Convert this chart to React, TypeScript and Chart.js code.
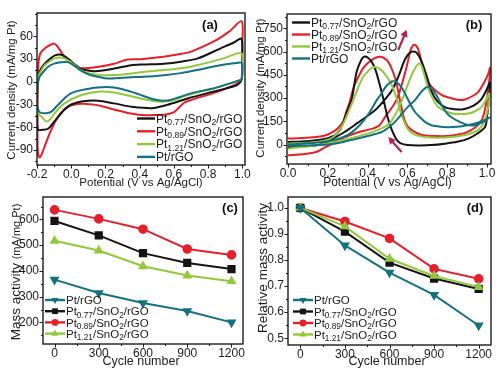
import React, { useEffect, useRef } from 'react';
import { Chart, registerables } from 'chart.js';

Chart.register(...registerables);

const W = 500;
const H = 373;
const SANS = "'Liberation Sans', Arial, Helvetica, sans-serif";
const NARROW = "'Liberation Sans Narrow', 'Arial Narrow', 'Liberation Sans', Arial, sans-serif";

type P = [number, number];

// ---------- series names / colours ----------
const NAME_PT077 = 'Pt_{0.77}/SnO_{2}/rGO';
const NAME_PT089 = 'Pt_{0.89}/SnO_{2}/rGO';
const NAME_PT121 = 'Pt_{1.21}/SnO_{2}/rGO';
const NAME_PTRGO = 'Pt/rGO';
const C_BLACK = '#141414';
const C_RED = '#e5202a';
const C_GREEN = '#93c83e';
const C_TEAL = '#16717f';
const C_ARROW = '#b3234a';

// ---------- panel (a): CV in H2SO4 ----------
const A_PT077: P[] = [[-0.199,-56],[-0.197,-10],[-0.192,9],[-0.175,18],[-0.155,24],[-0.12,31],[-0.095,35],[-0.065,36],[-0.04,34],[-0.01,29],[0.015,24],[0.058,17],[0.1,15],[0.14,14],[0.25,17.5],[0.35,22],[0.42,23],[0.54,24],[0.65,27],[0.74,31],[0.87,44],[0.95,52],[0.994,57],[0.999,35],[0.996,4],[0.97,-4],[0.9,-9],[0.83,-13],[0.68,-22],[0.56,-30.5],[0.47,-35],[0.4,-34],[0.35,-33],[0.25,-28.5],[0.155,-25],[0.06,-26],[0.0,-30],[-0.04,-37],[-0.097,-52],[-0.135,-62],[-0.17,-63.5],[-0.193,-63.5],[-0.199,-56]];
const A_PT089: P[] = [[-0.197,-85],[-0.198,-30],[-0.195,12],[-0.19,28],[-0.18,38],[-0.15,45],[-0.12,49],[-0.1,50.5],[-0.085,48],[-0.06,40],[-0.035,32],[0.0,25],[0.03,20],[0.06,18],[0.16,20],[0.25,24],[0.33,29.5],[0.41,30],[0.54,33],[0.62,36],[0.7,40],[0.83,53],[0.92,66],[0.995,80],[0.999,50],[0.996,5],[0.985,0],[0.93,-6.5],[0.83,-15],[0.7,-24],[0.657,-28],[0.6,-40],[0.54,-43.5],[0.48,-44],[0.41,-44],[0.35,-42],[0.25,-36.5],[0.155,-31],[0.06,-29],[-0.02,-33],[-0.077,-46],[-0.116,-63],[-0.155,-85],[-0.175,-97],[-0.186,-100],[-0.193,-96],[-0.197,-85]];
const A_PT121: P[] = [[-0.199,-38],[-0.198,-5],[-0.193,7],[-0.175,15],[-0.155,22],[-0.12,28],[-0.097,31],[-0.06,32],[-0.04,31],[-0.01,27],[0.019,22],[0.077,13],[0.155,9],[0.25,9],[0.35,11],[0.42,13],[0.54,15.5],[0.64,18],[0.735,22],[0.89,31],[0.993,38],[0.999,20],[0.996,3],[0.985,2],[0.9,-4],[0.83,-9],[0.68,-17.5],[0.6,-24],[0.53,-26.5],[0.48,-25.5],[0.406,-22],[0.35,-19],[0.25,-14],[0.155,-13],[0.06,-17.5],[-0.04,-28.5],[-0.097,-41.5],[-0.125,-50],[-0.145,-52.5],[-0.17,-47],[-0.193,-42],[-0.199,-38]];
const A_PTRGO: P[] = [[-0.2,-32],[-0.2,-9],[-0.19,3],[-0.184,7],[-0.16,14],[-0.135,20],[-0.1,24],[-0.058,26],[-0.02,26],[0.02,21],[0.039,17.5],[0.08,12],[0.116,8.8],[0.213,4.5],[0.348,6],[0.42,6.6],[0.54,8.8],[0.64,11.5],[0.735,15.5],[0.87,22],[0.95,24.5],[0.995,25],[0.999,12],[0.996,3],[0.985,2],[0.9,-4],[0.83,-8.8],[0.72,-14],[0.638,-19.7],[0.58,-24],[0.54,-25],[0.5,-24],[0.464,-22],[0.4,-17],[0.348,-13],[0.25,-7.5],[0.155,-7.5],[0.058,-11],[0.0,-15],[-0.04,-22],[-0.08,-31],[-0.116,-39.5],[-0.145,-41.5],[-0.164,-41.5],[-0.185,-40],[-0.2,-32]];
const A_X_TICKS = [-0.2, 0, 0.2, 0.4, 0.6, 0.8, 1.0];
const A_Y_TICKS = [-90, -60, -30, 0, 30, 60];

// ---------- panel (b): methanol oxidation CV ----------
const B_PT077: P[] = [[0,-15],[0.07,-11],[0.142,-5],[0.2,18],[0.226,39],[0.27,70],[0.31,103],[0.35,140],[0.394,180],[0.44,225],[0.477,276],[0.52,345],[0.554,437],[0.588,550],[0.612,592],[0.63,600],[0.648,590],[0.672,534],[0.7,430],[0.72,345],[0.75,280],[0.79,240],[0.84,228],[0.88,228],[0.93,250],[0.97,290],[1.0,360],[1.015,400],[1.01,300],[1.0,180],[0.99,114],[0.95,70],[0.906,39],[0.85,18],[0.789,6],[0.72,-3],[0.655,-5],[0.6,-2],[0.57,6],[0.55,25],[0.538,49],[0.52,100],[0.5,179],[0.478,300],[0.458,400],[0.44,480],[0.42,535],[0.4,562],[0.385,568],[0.37,550],[0.345,470],[0.32,290],[0.3,225],[0.28,150],[0.26,95],[0.24,65],[0.226,55],[0.19,38],[0.142,28],[0.07,20],[0,17]];
const B_PT089: P[] = [[0,-69],[0.07,-62],[0.142,-48],[0.19,-15],[0.226,6],[0.27,38],[0.31,60],[0.35,78],[0.394,93],[0.43,105],[0.46,125],[0.494,190],[0.52,235],[0.546,290],[0.57,380],[0.596,502],[0.615,605],[0.63,642],[0.645,637],[0.66,590],[0.68,490],[0.705,400],[0.739,351],[0.78,315],[0.823,298],[0.86,288],[0.889,291],[0.93,315],[0.956,340],[0.985,400],[1.007,460],[1.015,495],[1.012,420],[1.0,300],[0.985,200],[0.97,150],[0.94,110],[0.9,80],[0.856,65],[0.8,55],[0.739,55],[0.68,60],[0.655,70],[0.62,95],[0.6,120],[0.585,160],[0.57,240],[0.554,340],[0.54,420],[0.521,490],[0.5,540],[0.48,560],[0.462,566],[0.44,560],[0.42,545],[0.4,525],[0.378,495],[0.355,440],[0.33,370],[0.31,276],[0.29,200],[0.276,146],[0.25,105],[0.226,82],[0.19,60],[0.142,49],[0.07,42],[0,39]];
const B_PT121: P[] = [[0,-26],[0.07,-15],[0.142,-5],[0.22,15],[0.31,39],[0.37,60],[0.427,82],[0.47,105],[0.51,136],[0.55,220],[0.58,310],[0.6,380],[0.625,460],[0.645,505],[0.657,522],[0.67,510],[0.685,450],[0.705,360],[0.73,290],[0.755,243],[0.8,210],[0.839,198],[0.88,198],[0.906,200],[0.94,215],[0.973,243],[1.0,300],[1.012,330],[1.008,260],[0.99,160],[0.956,95],[0.9,65],[0.823,49],[0.75,45],[0.688,49],[0.65,58],[0.622,75],[0.6,105],[0.588,136],[0.57,190],[0.554,265],[0.535,340],[0.515,400],[0.49,450],[0.465,485],[0.44,500],[0.42,495],[0.4,470],[0.378,437],[0.35,360],[0.328,287],[0.3,200],[0.278,136],[0.25,80],[0.228,49],[0.19,28],[0.144,17],[0.07,10],[0,6]];
const B_PTRGO: P[] = [[0,-8],[0.1,-5],[0.2,0],[0.26,12],[0.31,28],[0.36,42],[0.4,55],[0.44,68],[0.477,85],[0.51,115],[0.54,150],[0.57,195],[0.6,240],[0.64,290],[0.67,340],[0.7,372],[0.72,360],[0.745,320],[0.77,260],[0.8,200],[0.823,175],[0.86,148],[0.9,128],[0.94,125],[0.97,140],[1.012,175],[1.0,165],[0.96,145],[0.9,125],[0.85,115],[0.8,112],[0.75,118],[0.72,125],[0.69,145],[0.66,180],[0.638,210],[0.615,260],[0.59,325],[0.57,370],[0.55,398],[0.53,408],[0.513,400],[0.49,370],[0.465,320],[0.445,285],[0.42,230],[0.395,180],[0.36,125],[0.312,71],[0.27,45],[0.228,28],[0.15,14],[0.06,6],[0,0]];
const B_X_TICKS = [0, 0.2, 0.4, 0.6, 0.8, 1.0];
const B_Y_TICKS = [0, 150, 300, 450, 600, 750];
const B_ARROWS: [number, number, number, number][] = [[0.554, 610, 0.596, 740], [0.571, -48, 0.504, 49]];

// ---------- panels (c) and (d): durability ----------
const CYCLES = [0, 300, 600, 900, 1200];
const C_PTRGO = [366, 314, 275, 244, 200];
const C_PT077 = [594, 538, 469, 431, 407];
const C_PT089 = [637, 602, 562, 485, 462];
const C_PT121 = [517, 479, 418, 382, 360];
const C_Y_TICKS = [200, 300, 400, 500, 600];

const D_PTRGO = [1.0, 0.856, 0.752, 0.666, 0.549];
const D_PT077 = [1.0, 0.909, 0.79, 0.729, 0.689];
const D_PT089 = [1.0, 0.948, 0.883, 0.766, 0.728];
const D_PT121 = [1.0, 0.929, 0.805, 0.739, 0.696];
const D_Y_TICKS = [0.5, 0.6, 0.7, 0.8, 0.9, 1.0];

// ---------- drawing helpers ----------
function richSegments(s: string) {
  const out: { t: string; sub: boolean }[] = [];
  const re = /_\{([^}]*)\}/g;
  let last = 0;
  let m: RegExpExecArray | null;
  while ((m = re.exec(s))) {
    if (m.index > last) out.push({ t: s.slice(last, m.index), sub: false });
    out.push({ t: m[1], sub: true });
    last = re.lastIndex;
  }
  if (last < s.length) out.push({ t: s.slice(last), sub: false });
  return out;
}

function drawRich(ctx: CanvasRenderingContext2D, s: string, x: number, yMid: number, size: number, color: string) {
  let cx = x;
  const base = yMid + size * 0.36;
  ctx.fillStyle = color;
  ctx.textAlign = 'left';
  ctx.textBaseline = 'alphabetic';
  for (const seg of richSegments(s)) {
    const fs = seg.sub ? size * 0.72 : size;
    ctx.font = `${fs}px ${SANS}`;
    ctx.fillText(seg.t, cx, seg.sub ? base + size * 0.2 : base);
    cx += ctx.measureText(seg.t).width;
  }
}

function drawMarker(ctx: CanvasRenderingContext2D, style: string, x: number, y: number, r: number, rot: number, color: string) {
  ctx.fillStyle = color;
  ctx.beginPath();
  if (style === 'rect') {
    const s = r * 0.78;
    ctx.rect(x - s, y - s, 2 * s, 2 * s);
  } else if (style === 'circle') {
    ctx.arc(x, y, r * 0.92, 0, Math.PI * 2);
  } else {
    let a = (rot * Math.PI) / 180;
    for (let i = 0; i < 3; i++) {
      const px = x + Math.sin(a) * r * 1.1;
      const py = y - Math.cos(a) * r * 1.1;
      if (i === 0) ctx.moveTo(px, py);
      else ctx.lineTo(px, py);
      a += (2 * Math.PI) / 3;
    }
    ctx.closePath();
  }
  ctx.fill();
}

function drawArrow(ctx: CanvasRenderingContext2D, x1: number, y1: number, x2: number, y2: number, color: string) {
  const ang = Math.atan2(y2 - y1, x2 - x1);
  const hl = 7;
  const hw = 3.8;
  ctx.strokeStyle = color;
  ctx.lineWidth = 2.2;
  ctx.beginPath();
  ctx.moveTo(x1, y1);
  ctx.lineTo(x2 - Math.cos(ang) * hl * 0.7, y2 - Math.sin(ang) * hl * 0.7);
  ctx.stroke();
  ctx.fillStyle = color;
  ctx.beginPath();
  ctx.moveTo(x2, y2);
  ctx.lineTo(x2 - hl * Math.cos(ang) + hw * Math.sin(ang), y2 - hl * Math.sin(ang) - hw * Math.cos(ang));
  ctx.lineTo(x2 - hl * Math.cos(ang) - hw * Math.sin(ang), y2 - hl * Math.sin(ang) + hw * Math.cos(ang));
  ctx.closePath();
  ctx.fill();
}

interface LegendItem { label: string; color: string; marker?: string; rot?: number }
interface TitleSeg { t: string; size: number }
interface PanelSpec {
  area: { l: number; t: number; r: number; b: number };
  x: [number, number];
  y: [number, number];
  xTicks: number[];
  yTicks: number[];
  xMinor: number;
  yMinor: number;
  xFmt: (v: number) => string;
  yFmt: (v: number) => string;
  yPad: number;
  xPad: number;
  datasets: any[];
  xTitle: { text: string; x: number; y: number; size: number };
  yTitle: { segs: TitleSeg[]; x: number; y: number };
  label: { text: string; x: number; y: number };
  legend: { x1: number; x2: number; tx: number; ys: number[]; size: number; items: LegendItem[] };
  arrows?: [number, number, number, number][];
}

const YW = 30;
const XH = 18;
const TICK_SIZE = 12;

function decor(p: PanelSpec) {
  return {
    id: 'decor',
    afterDraw(chart: any) {
      const ctx: CanvasRenderingContext2D = chart.ctx;
      const { left, top, right, bottom } = chart.chartArea;
      const xs = chart.scales.x;
      const ys = chart.scales.y;
      ctx.save();
      // frame
      ctx.strokeStyle = '#1c1c1c';
      ctx.lineWidth = 1.4;
      ctx.strokeRect(left, top, right - left, bottom - top);
      // outward ticks, major + minor
      ctx.lineWidth = 1;
      const isMajor = (arr: number[], v: number, eps: number) => arr.some((t) => Math.abs(t - v) < eps);
      const xs0 = Math.ceil(p.x[0] / p.xMinor) * p.xMinor;
      for (let v = xs0; v <= p.x[1] + 1e-9; v += p.xMinor) {
        const px = Math.round(xs.getPixelForValue(v)) + 0.5;
        const len = isMajor(p.xTicks, v, p.xMinor / 10) ? 3.5 : 2;
        ctx.beginPath();
        ctx.moveTo(px, bottom);
        ctx.lineTo(px, bottom + len);
        ctx.stroke();
      }
      const ys0 = Math.ceil(p.y[0] / p.yMinor) * p.yMinor;
      for (let v = ys0; v <= p.y[1] + 1e-9; v += p.yMinor) {
        const py = Math.round(ys.getPixelForValue(v)) + 0.5;
        const len = isMajor(p.yTicks, v, p.yMinor / 10) ? 3.5 : 2;
        ctx.beginPath();
        ctx.moveTo(left, py);
        ctx.lineTo(left - len, py);
        ctx.stroke();
      }
      // axis titles
      ctx.fillStyle = '#1c1c1c';
      ctx.textAlign = 'center';
      ctx.textBaseline = 'middle';
      ctx.font = `${p.xTitle.size}px ${SANS}`;
      ctx.fillText(p.xTitle.text, p.xTitle.x, p.xTitle.y);
      ctx.save();
      ctx.translate(p.yTitle.x, p.yTitle.y);
      ctx.rotate(-Math.PI / 2);
      let total = 0;
      for (const s of p.yTitle.segs) {
        ctx.font = `${s.size}px ${SANS}`;
        total += ctx.measureText(s.t).width;
      }
      let cx = -total / 2;
      ctx.textAlign = 'left';
      ctx.textBaseline = 'alphabetic';
      const maxSize = Math.max(...p.yTitle.segs.map((s) => s.size));
      for (const s of p.yTitle.segs) {
        ctx.font = `${s.size}px ${SANS}`;
        ctx.fillText(s.t, cx, maxSize * 0.36);
        cx += ctx.measureText(s.t).width;
      }
      ctx.restore();
      // panel label
      ctx.font = `bold 13px ${SANS}`;
      ctx.textAlign = 'center';
      ctx.textBaseline = 'middle';
      ctx.fillStyle = '#111';
      ctx.fillText(p.label.text, p.label.x, p.label.y);
      // legend
      p.legend.items.forEach((it, i) => {
        const y = p.legend.ys[i];
        ctx.strokeStyle = it.color;
        ctx.lineWidth = 2.4;
        ctx.beginPath();
        ctx.moveTo(p.legend.x1, y);
        ctx.lineTo(p.legend.x2, y);
        ctx.stroke();
        if (it.marker) drawMarker(ctx, it.marker, (p.legend.x1 + p.legend.x2) / 2, y, 3.7, it.rot || 0, it.color);
        drawRich(ctx, it.label, p.legend.tx, y, p.legend.size, '#1c1c1c');
      });
      // arrows
      (p.arrows || []).forEach(([x1, y1, x2, y2]) => {
        drawArrow(ctx, xs.getPixelForValue(x1), ys.getPixelForValue(y1), xs.getPixelForValue(x2), ys.getPixelForValue(y2), C_ARROW);
      });
      ctx.restore();
    },
  };
}

function buildConfig(p: PanelSpec): any {
  return {
    type: 'scatter',
    data: { datasets: p.datasets },
    options: {
      responsive: false,
      animation: false,
      devicePixelRatio: 1,
      events: [],
      layout: {
        padding: { left: p.area.l - YW, top: p.area.t, right: W - p.area.r, bottom: H - p.area.b - XH },
      },
      scales: {
        x: {
          type: 'linear',
          min: p.x[0],
          max: p.x[1],
          afterFit: (s: any) => { s.height = XH; },
          afterBuildTicks: (s: any) => { s.ticks = p.xTicks.map((v) => ({ value: v })); },
          grid: { display: false, drawTicks: false },
          border: { display: false },
          ticks: { autoSkip: false, maxRotation: 0, padding: p.xPad, color: '#1c1c1c', font: { family: NARROW, size: TICK_SIZE }, callback: (v: any) => p.xFmt(Number(v)) },
        },
        y: {
          type: 'linear',
          min: p.y[0],
          max: p.y[1],
          afterFit: (s: any) => { s.width = YW; },
          afterBuildTicks: (s: any) => { s.ticks = p.yTicks.map((v) => ({ value: v })); },
          grid: { display: false, drawTicks: false },
          border: { display: false },
          ticks: { autoSkip: false, padding: p.yPad, color: '#1c1c1c', font: { family: NARROW, size: TICK_SIZE }, callback: (v: any) => p.yFmt(Number(v)) },
        },
      },
      plugins: { legend: { display: false }, tooltip: { enabled: false }, title: { display: false } },
    },
    plugins: [decor(p)],
  };
}

const loop = (pts: P[], color: string) => ({
  data: pts.map(([x, y]) => ({ x, y })),
  showLine: true,
  borderColor: color,
  borderWidth: 2,
  pointRadius: 0,
  tension: 0.3,
  fill: false,
});

const markerSeries = (vals: number[], color: string, style: string, rot = 0) => ({
  data: CYCLES.map((c, i) => ({ x: c, y: vals[i] })),
  showLine: true,
  borderColor: color,
  backgroundColor: color,
  borderWidth: 2,
  pointRadius: style === 'rect' ? 4.4 : 3.8,
  pointStyle: style,
  pointRotation: rot,
  pointBackgroundColor: color,
  pointBorderColor: color,
  tension: 0,
  fill: false,
});

const f1 = (v: number) => v.toFixed(1);
const f0 = (v: number) => String(Math.round(v));

const CV_LEGEND: LegendItem[] = [
  { label: NAME_PT077, color: C_BLACK },
  { label: NAME_PT089, color: C_RED },
  { label: NAME_PT121, color: C_GREEN },
  { label: NAME_PTRGO, color: C_TEAL },
];
const DUR_LEGEND: LegendItem[] = [
  { label: NAME_PTRGO, color: C_TEAL, marker: 'triangle', rot: 180 },
  { label: NAME_PT077, color: C_BLACK, marker: 'rect' },
  { label: NAME_PT089, color: C_RED, marker: 'circle' },
  { label: NAME_PT121, color: C_GREEN, marker: 'triangle' },
];
const CD_TITLE = 'Current density ';

const PANELS: PanelSpec[] = [
  {
    area: { l: 37, t: 13, r: 245, b: 165 },
    x: [-0.2, 1.015],
    y: [-110, 91],
    xTicks: A_X_TICKS,
    yTicks: A_Y_TICKS,
    xMinor: 0.1,
    yMinor: 15,
    xFmt: f1,
    yFmt: f0,
    yPad: 4,
    xPad: 2,
    datasets: [loop(A_PTRGO, C_TEAL), loop(A_PT121, C_GREEN), loop(A_PT077, C_BLACK), loop(A_PT089, C_RED)],
    xTitle: { text: 'Potential (V vs Ag/AgCl)', x: 141, y: 183, size: 11.5 },
    yTitle: { segs: [{ t: CD_TITLE + '(mA/mg Pt)', size: 11.5 }], x: 10.5, y: 90 },
    label: { text: '(a)', x: 210, y: 25 },
    legend: { x1: 137, x2: 155, tx: 156, ys: [118.5, 131.3, 144.1, 156.9], size: 12, items: CV_LEGEND },
  },
  {
    area: { l: 287, t: 14, r: 491, b: 164 },
    x: [-0.005, 1.02],
    y: [-125, 842],
    xTicks: B_X_TICKS,
    yTicks: B_Y_TICKS,
    xMinor: 0.1,
    yMinor: 75,
    xFmt: f1,
    yFmt: f0,
    yPad: 4,
    xPad: 2,
    datasets: [loop(B_PTRGO, C_TEAL), loop(B_PT121, C_GREEN), loop(B_PT077, C_BLACK), loop(B_PT089, C_RED)],
    xTitle: { text: 'Potential (V vs Ag/AgCl)', x: 387.5, y: 182.5, size: 12 },
    yTitle: { segs: [{ t: CD_TITLE + '(mA/mg Pt)', size: 11.5 }], x: 260, y: 88 },
    label: { text: '(b)', x: 474, y: 25 },
    legend: { x1: 292, x2: 310, tx: 311, ys: [22.5, 34.5, 46.5, 58.5], size: 12, items: CV_LEGEND },
    arrows: B_ARROWS,
  },
  {
    area: { l: 43, t: 197, r: 243, b: 344 },
    x: [-78, 1278],
    y: [116, 687],
    xTicks: CYCLES,
    yTicks: C_Y_TICKS,
    xMinor: 150,
    yMinor: 50,
    xFmt: f0,
    yFmt: f0,
    yPad: 4,
    xPad: 2,
    datasets: [markerSeries(C_PTRGO, C_TEAL, 'triangle', 180), markerSeries(C_PT121, C_GREEN, 'triangle'), markerSeries(C_PT077, C_BLACK, 'rect'), markerSeries(C_PT089, C_RED, 'circle')],
    xTitle: { text: 'Cycle number', x: 141, y: 362, size: 12.5 },
    yTitle: { segs: [{ t: 'Mass activity ', size: 13.5 }, { t: '(mA/mg Pt)', size: 11 }], x: 15, y: 272 },
    label: { text: '(c)', x: 230, y: 208 },
    legend: { x1: 45, x2: 65, tx: 66, ys: [300, 311.2, 322.4, 333.6], size: 11.5, items: DUR_LEGEND },
  },
  {
    area: { l: 288, t: 197, r: 491, b: 345 },
    x: [-83, 1283],
    y: [0.474, 1.042],
    xTicks: CYCLES,
    yTicks: D_Y_TICKS,
    xMinor: 150,
    yMinor: 0.05,
    xFmt: f0,
    yFmt: f1,
    yPad: 4,
    xPad: 2,
    datasets: [markerSeries(D_PTRGO, C_TEAL, 'triangle', 180), markerSeries(D_PT121, C_GREEN, 'triangle'), markerSeries(D_PT077, C_BLACK, 'rect'), markerSeries(D_PT089, C_RED, 'circle')],
    xTitle: { text: 'Cycle number', x: 387, y: 362, size: 12.5 },
    yTitle: { segs: [{ t: 'Relative mass activity', size: 13.5 }], x: 262, y: 268 },
    label: { text: '(d)', x: 475, y: 208 },
    legend: { x1: 293, x2: 313, tx: 314, ys: [300, 311.5, 323, 334.5], size: 11.5, items: DUR_LEGEND },
  },
];

export default function App() {
  const refs = [useRef<HTMLCanvasElement>(null), useRef<HTMLCanvasElement>(null), useRef<HTMLCanvasElement>(null), useRef<HTMLCanvasElement>(null)];
  useEffect(() => {
    const charts = PANELS.map((p, i) => new Chart(refs[i].current as HTMLCanvasElement, buildConfig(p)));
    return () => charts.forEach((c) => c.destroy());
  }, []);
  return (
    <div style={{ position: 'absolute', left: 0, top: 0, width: W, height: H, background: '#fff', overflow: 'hidden' }}>
      {refs.map((r, i) => (
        <canvas key={i} ref={r} width={W} height={H} style={{ position: 'absolute', left: 0, top: 0, width: W, height: H }} />
      ))}
    </div>
  );
}
